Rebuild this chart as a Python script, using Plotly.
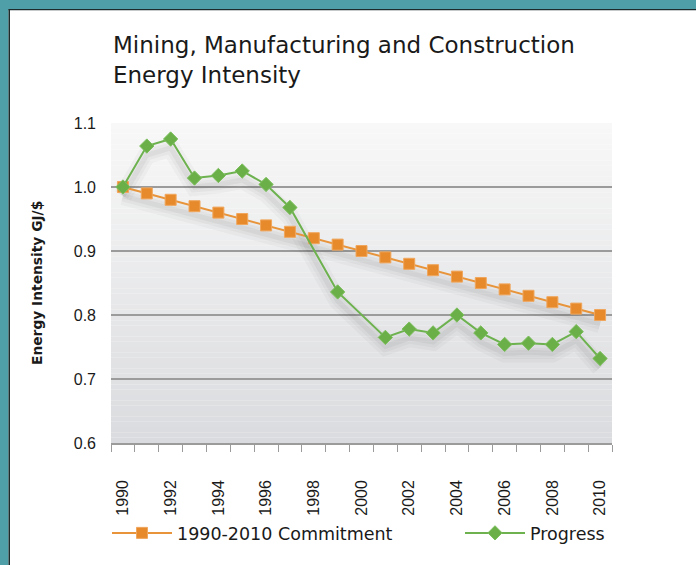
import plotly.graph_objects as go

# ---- data ----
years = list(range(1990, 2011))
commitment = [1.00, 0.99, 0.98, 0.97, 0.96, 0.95, 0.94, 0.93, 0.92, 0.91, 0.90,
              0.89, 0.88, 0.87, 0.86, 0.85, 0.84, 0.83, 0.82, 0.81, 0.80]
progress = [1.000, 1.064, 1.075, 1.014, 1.018, 1.025, 1.004, 0.968, None, 0.836, None,
            0.765, 0.778, 0.772, 0.800, 0.772, 0.754, 0.756, 0.754, 0.774, 0.732]
x_ticks = list(range(1990, 2011, 2))
y_ticks = [0.6, 0.7, 0.8, 0.9, 1.0, 1.1]
series_names = ["1990-2010 Commitment", "Progress"]
title_text = "Mining, Manufacturing and Construction<br>Energy Intensity"
y_title = "Energy Intensity GJ/$"

ORANGE = "#e68a2c"
GREEN = "#6aaf48"

W, H = 696, 565
ML, MR, MT, MB = 111, 84, 123, 122
PW, PH = W - ML - MR, H - MT - MB


def px(xp):
    return (xp - ML) / PW


def py(yp):
    return (H - MB - yp) / PH


fig = go.Figure()

# soft drop shadows (same data, nudged down)
shadow_off = 0.014
for vals in (commitment, progress):
    sv = [None if v is None else v - shadow_off for v in vals]
    for w, a in ((18, 0.03), (11, 0.04), (5, 0.05)):
        fig.add_trace(go.Scatter(x=years, y=sv, mode="lines", connectgaps=True,
                                 line=dict(color=f"rgba(40,40,40,{a})", width=w),
                                 showlegend=False, hoverinfo="skip"))

fig.add_trace(go.Scatter(
    x=years, y=commitment, name=series_names[0], mode="lines+markers",
    legendwidth=278,
    line=dict(color="#e8943a", width=2),
    marker=dict(symbol="square", size=11, color=ORANGE,
                line=dict(color="#f0a65c", width=1))))
fig.add_trace(go.Scatter(
    x=years, y=progress, name=series_names[1], mode="lines+markers",
    connectgaps=True,
    line=dict(color="#6db24f", width=2),
    marker=dict(symbol="diamond", size=11, color=GREEN,
                line=dict(color="#7cbf5c", width=1))))

shapes = []
# gradient plot background
n = 60
top = (0xf8, 0xf8, 0xf8)
bot = (0xda, 0xdb, 0xde)
for i in range(n):
    t = (i + 0.5) / n  # 0 bottom -> 1 top
    c = tuple(round(b + (tp - b) * t) for tp, b in zip(top, bot))
    shapes.append(dict(type="rect", xref="x domain", yref="y domain",
                       x0=0, x1=1, y0=i / n, y1=(i + 1) / n,
                       fillcolor="rgb(%d,%d,%d)" % c, line=dict(width=0),
                       layer="below"))
# page frame
TEAL = "#4e9fa8"
DARK = "#1d2b2c"
shapes += [
    dict(type="rect", xref="paper", yref="paper", x0=px(0), x1=px(8.5),
         y0=py(H), y1=py(0), fillcolor=TEAL, line=dict(width=0)),
    dict(type="rect", xref="paper", yref="paper", x0=px(0), x1=px(W),
         y0=py(9), y1=py(0), fillcolor=TEAL, line=dict(width=0)),
    dict(type="rect", xref="paper", yref="paper", x0=px(8.5), x1=px(10),
         y0=py(H), y1=py(9), fillcolor=DARK, line=dict(width=0)),
    dict(type="rect", xref="paper", yref="paper", x0=px(8.5), x1=px(W),
         y0=py(10.3), y1=py(9), fillcolor=DARK, line=dict(width=0)),
]

fig.update_layout(
    width=W, height=H, autosize=False,
    margin=dict(l=ML, r=MR, t=MT, b=MB),
    paper_bgcolor="white", plot_bgcolor="rgba(0,0,0,0)",
    shapes=shapes,
    showlegend=True,
    legend=dict(orientation="h", x=px(107), xanchor="left", y=py(533),
                yanchor="middle", font=dict(family="DejaVu Sans", size=17.5,
                                             color="#1a1a1a"),
                itemwidth=60,
                bgcolor="rgba(0,0,0,0)", traceorder="normal"),
    annotations=[
        dict(text=title_text, xref="paper", yref="paper", x=px(111), y=py(30),
             xanchor="left", yanchor="top", align="left", showarrow=False,
             font=dict(family="DejaVu Sans", size=23, color="#1a1a1a")),
        dict(text=y_title, xref="paper", yref="paper", x=px(37), y=0.5,
             xanchor="center", yanchor="middle", textangle=-90, showarrow=False,
             font=dict(family="DejaVu Sans", size=13.8, color="#1a1a1a",
                       weight="bold")),
    ],
    xaxis=dict(range=[1989.5, 2010.5], tickmode="array", tickvals=x_ticks,
               ticktext=[str(v) for v in x_ticks], tickangle=-90, ticks="",
               ticklabelstandoff=29,
               tickfont=dict(family="Liberation Sans", size=16, color="#1a1a1a"),
               showgrid=False, zeroline=False, showline=True,
               linecolor="#9b9b9b", linewidth=1.5,
               minor=dict(ticks="outside", ticklen=7, tickcolor="#9b9b9b",
                          tickwidth=1.2, tick0=1989.5, dtick=1, showgrid=False),
               fixedrange=True),
    yaxis=dict(range=[0.6, 1.1], tickmode="array", tickvals=y_ticks,
               ticktext=["%.1f" % v for v in y_ticks], ticks="",
               ticklabelstandoff=14,
               tickfont=dict(family="Liberation Sans", size=16, color="#1a1a1a"),
               showgrid=True, gridcolor="#9b9b9b", gridwidth=1.5,
               zeroline=False, showline=False, fixedrange=True),
    hovermode=False,
)

fig.write_html("out.html",
               config={"displayModeBar": False},
               post_script="document.body.style.margin='0';"
                           "document.body.style.overflow='hidden';")
